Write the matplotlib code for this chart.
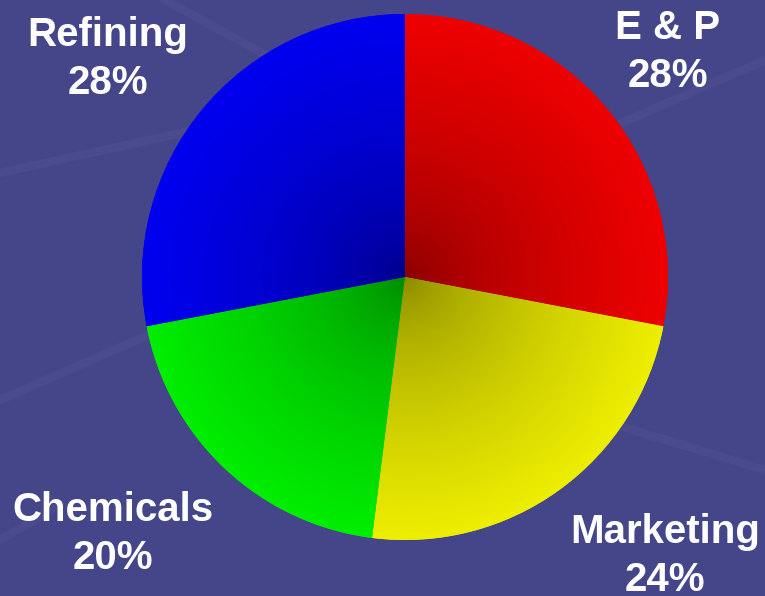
import matplotlib.pyplot as plt
import numpy as np
from matplotlib.colors import to_rgb

segments = ["E & P", "Marketing", "Chemicals", "Refining"]
shares = [28, 24, 20, 28]
colors = ["#ee0000", "#eeee00", "#00ee00", "#0000f0"]

W, H = 765, 596
bg = "#45458a"

fig = plt.figure(figsize=(W / 100, H / 100), dpi=100, facecolor=bg)
ax = fig.add_axes([0, 0, 1, 1])
ax.set_facecolor(bg)

# faint streaks in the background
for (x0, y0, x1, y1) in [(0, 173, 330, 100), (165, 0, 330, 90), (0, 400, 160, 330),
                         (600, 420, 765, 470), (560, 150, 765, 60), (0, 540, 60, 505)]:
    ax.plot([x0, x1], [H - y0, H - y1], color="white", alpha=0.03, lw=6,
            solid_capstyle="round", zorder=0)

cx, cy, R = 405, H - 277, 263
wedges, _ = ax.pie(shares, colors=colors, startangle=90, counterclock=False,
                   center=(cx, cy), radius=R, wedgeprops=dict(linewidth=0))

# radial shading: darker toward the middle
n = 400
xs = np.linspace(cx - R, cx + R, n)
ys = np.linspace(cy - R, cy + R, n)
X, Y = np.meshgrid(xs, ys)
rr = np.clip(np.hypot(X - cx, Y - cy) / R, 0, 1)
shade = 0.55 + 0.45 * rr ** 0.6
for w, c in zip(wedges, colors):
    rgb = np.array(to_rgb(c))
    img = shade[..., None] * rgb[None, None, :]
    im = ax.imshow(img, extent=(cx - R, cx + R, cy - R, cy + R), origin="lower",
                   interpolation="bilinear", zorder=2)
    im.set_clip_path(w)

labels = [f"{s}\n{v}%" for s, v in zip(segments, shares)]
label_pos = [(668, 52), (665, 556), (113, 534), (108, 59)]
for txt, (lx, ly) in zip(labels, label_pos):
    ax.text(lx, H - ly, txt, color="white", fontsize=29, fontweight="bold",
            family=["Liberation Sans", "DejaVu Sans"], ha="center", va="center",
            linespacing=1.32, zorder=5)

ax.set_xlim(0, W)
ax.set_ylim(0, H)
ax.set_aspect("auto")
ax.axis("off")

fig.savefig("out.png", dpi=100, facecolor=bg)
